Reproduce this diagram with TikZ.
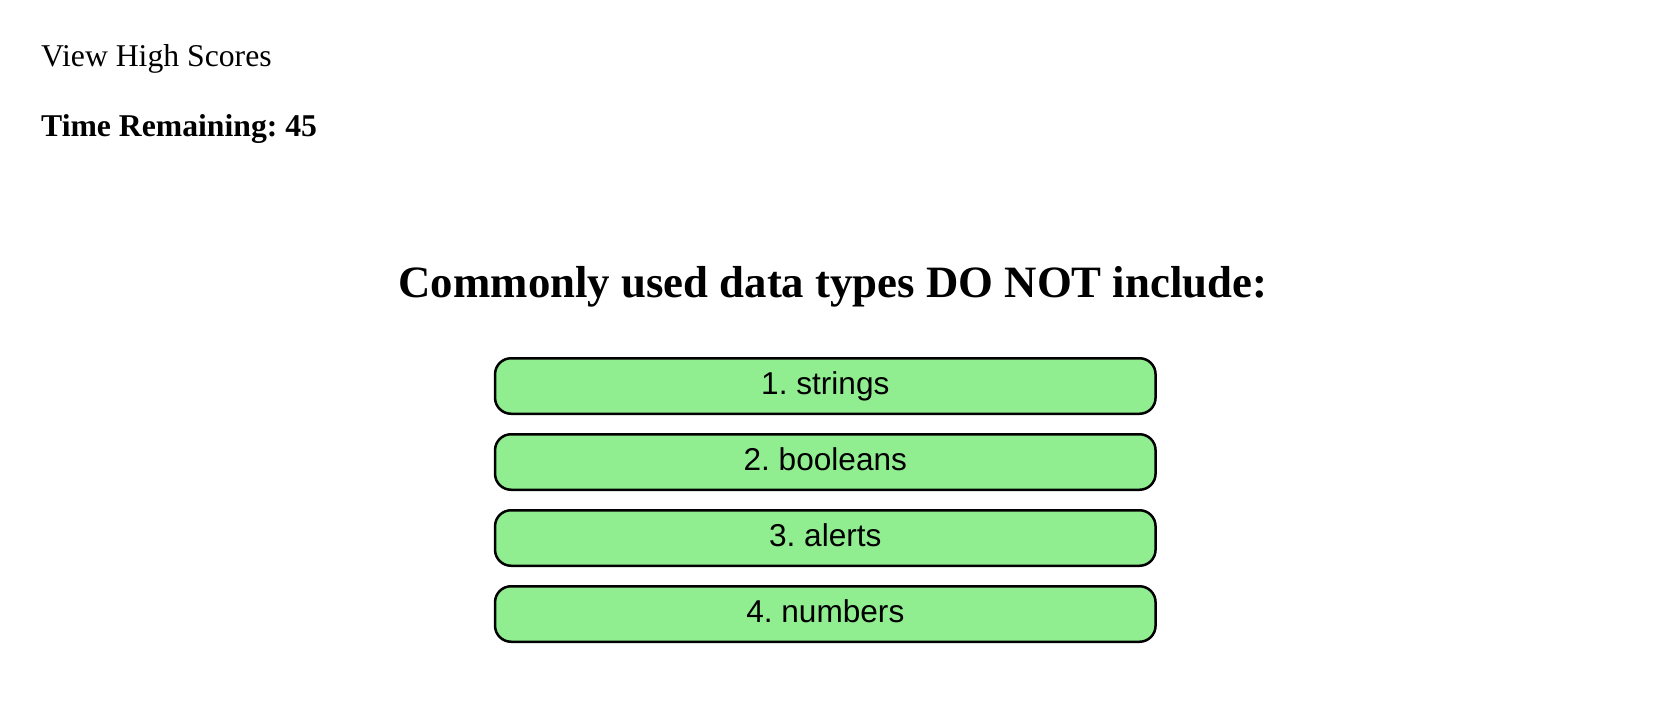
\documentclass[tikz,border=0pt]{standalone}
\usepackage{fontspec}
\setmainfont{Liberation Serif}
\setsansfont{Liberation Sans}
\frenchspacing
\definecolor{btnfill}{HTML}{90EE90}
\tikzset{
  toptext/.style={anchor=base west, inner sep=0pt, font=\fontsize{31.7}{36}\selectfont},
  titletext/.style={anchor=base, inner sep=0pt, font=\fontsize{44.8}{50}\bfseries\selectfont},
  answerbox/.style={draw=black, line width=2.5pt, fill=btnfill, rounded corners=16pt,
    minimum width=660.5pt, minimum height=55.5pt, inner sep=0pt,
    text height=16.6pt, text depth=0pt,
    font=\sffamily\fontsize{31.6}{36}\selectfont}
}
\begin{document}
\begin{tikzpicture}[x=1pt,y=-1pt]
\frenchspacing
\useasboundingbox (0,0) rectangle (1666,716);
\node[toptext] (hs) at (41,66.7) {View High Scores};
\node[toptext, font=\fontsize{31.7}{36}\bfseries\selectfont] (tr) at (41,136) {Time Remaining: 45};
\node[titletext] (q) at (833,297) {Commonly used data types DO NOT include:};
\node[answerbox] (a1) at (825.3,386) {1. strings};
\node[answerbox] (a2) at (825.3,462) {2. booleans};
\node[answerbox] (a3) at (825.3,538) {3. alerts};
\node[answerbox] (a4) at (825.3,614) {4. numbers};
\end{tikzpicture}
\end{document}
